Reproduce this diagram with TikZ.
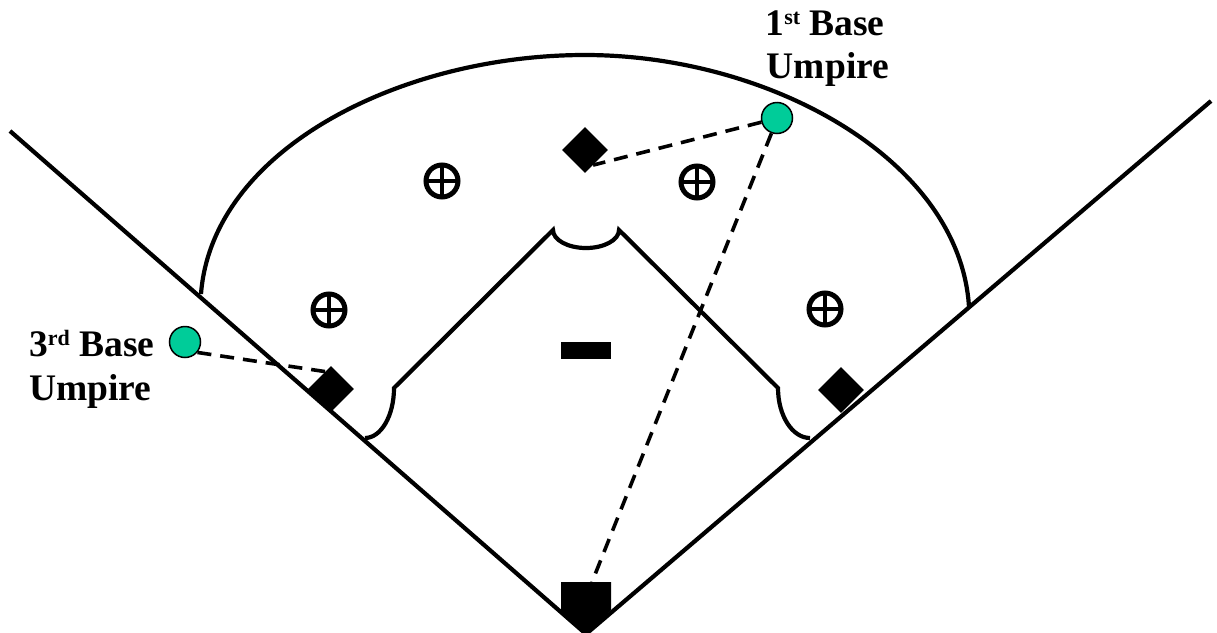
\documentclass[tikz,border=0pt]{standalone}
\usepackage{fontspec}
\setmainfont{Liberation Serif}
\usetikzlibrary{shapes.geometric,calc}
\definecolor{umpgreen}{RGB}{0,204,153}
\newcommand{\supx}[1]{\raisebox{11pt}{\fontsize{22}{22}\selectfont #1}}
\begin{document}
\begin{tikzpicture}[x=1pt,y=-1pt,
  fieldline/.style={line width=4.2pt, line join=miter},
  basebox/.style={diamond, fill=black, minimum width=46pt, minimum height=46pt, inner sep=0pt},
  ump/.style={circle, fill=umpgreen, draw=black, line width=1.5pt, minimum size=31pt, inner sep=0pt},
  dashline/.style={line width=3.6pt, dash pattern=on 14pt off 9pt},
  fielder/.style={circle, draw=black, line width=5pt, minimum size=32pt, inner sep=0pt,
    path picture={\draw[line width=3.8pt] (path picture bounding box.north) -- (path picture bounding box.south)
      (path picture bounding box.west) -- (path picture bounding box.east);}},
  lbl/.style={font=\fontsize{37.5}{44}\selectfont\bfseries, inner sep=0pt}]
\useasboundingbox (0,0) rectangle (1217,632);

% coordinates of the field
\coordinate (homeTip) at (586,634);
\coordinate (leftEnd) at (10,131);
\coordinate (rightEnd) at (1211,101);

% outfield arc
\draw[fieldline] (201,294) .. controls (212,150) and (400,55) .. (585,55)
  .. controls (770,55) and (960,160) .. (969,307);

% infield
\draw[fieldline] (365,438) arc[start angle=270, end angle=360, x radius=29, y radius=-50]
  -- (553,230) arc[start angle=180, end angle=360, x radius=33, y radius=-18]
  -- (778,388) arc[start angle=180, end angle=270, x radius=32, y radius=-50];

% bases
\node[basebox] (base2) at (585,150) {};
\node[basebox] (base3) at (331,389) {};
\node[basebox] (base1) at (841,390) {};

% foul lines
\draw[fieldline] (leftEnd) -- (homeTip) -- (rightEnd);

% home plate
\fill (561,582) -- (611,582) -- (611,610) -- (586,635) -- (561,610) -- cycle;
\coordinate (homeTop) at (592,582);

% pitcher's rubber
\node[fill=black, minimum width=50pt, minimum height=17.5pt, inner sep=0pt] (rubber) at (586,350.5) {};

% fielders
\node[fielder] (f1) at (442,181) {};
\node[fielder] (f2) at (697,182) {};
\node[fielder] (f3) at (329,310) {};
\node[fielder] (f4) at (825,309) {};

% umpires
\node[ump] (ump1) at (777,118) {};
\node[ump] (ump3) at (185,342) {};

% dashed lines
\draw[dashline] (ump3.-40) -- ($(base3.north)!0.25!(base3.west)$);
\draw[dashline] (ump1.195) -- ($(base2.south)!0.35!(base2.east)$);
\draw[dashline] (ump1.-110) -- (homeTop);

% labels
\node[lbl, anchor=base] (l1a) at (825,35) {1\supx{st} Base};
\node[lbl, anchor=base] (l1b) at (828,78) {Umpire};
\node[lbl, anchor=base west] (l3a) at (29,356) {3\supx{rd} Base};
\node[lbl, anchor=base west] (l3b) at (29,400) {Umpire};
\end{tikzpicture}
\end{document}
